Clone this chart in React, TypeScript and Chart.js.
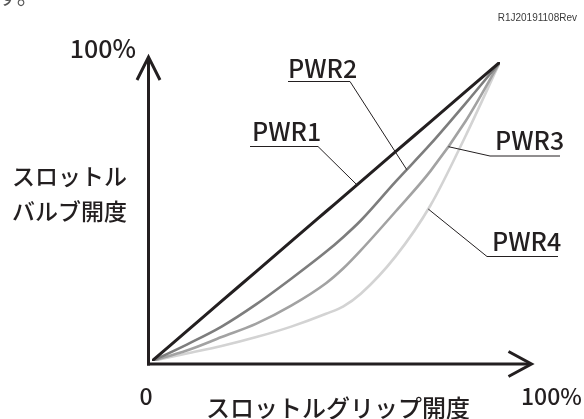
import React, { useEffect, useRef } from "react";
import { Chart, registerables } from "chart.js";

Chart.register(...registerables);

// スロットルグリップ開度 (%)
const gripOpening = [0, 10, 20, 30, 40, 50, 55, 60, 70, 80, 90, 100];
// スロットルバルブ開度 (%)
const pwr1 = [0, 10, 20, 30, 40, 50, 55, 60, 70, 80, 90, 100];
const pwr2 = [0, 5.5, 11.5, 19, 27.5, 36.5, 41.5, 47, 60, 72.5, 86, 100];
const pwr3 = [0, 3.5, 8, 12.5, 18.5, 26, 31, 37, 50, 63.5, 80, 100];
const pwr4 = [0, 2.5, 5, 8, 11.5, 15.8, 18.3, 22.5, 35, 52, 75, 100];
const seriesNames = ["PWR1", "PWR2", "PWR3", "PWR4"];
const seriesValues = [pwr1, pwr2, pwr3, pwr4];
const seriesColors = ["#231f20", "#7d7d7d", "#a2a2a2", "#d3d3d3"];
const seriesWidths = [3, 2.6, 2.6, 2.6];
// grip opening where each label's leader line touches its curve
const leaderTargetX = [58.9, 73.2, 85.2, 79.4];

const xAxisStart = "0";
const xAxisEnd = "100%";
const yAxisEnd = "100%";
const xTitle = "スロットルグリップ開度";
const yTitle = ["スロットル", "バルブ開度"];
const docCode = "R1J20191108Rev";

const INK = "#231f20";
const JP = '"Noto Sans CJK JP", "Noto Sans", sans-serif';

// label layout: text left, text baseline, underline y, underline from/to, leader start x
const labelLayout = [
  { tx: 252, ty: 141, uy: 146.5, u0: 250, u1: 318, lx: 318 },
  { tx: 288, ty: 78, uy: 81.5, u0: 288, u1: 350, lx: 350 },
  { tx: 495, ty: 150, uy: 156, u0: 490, u1: 560, lx: 490 },
  { tx: 492, ty: 251, uy: 256.5, u0: 487, u1: 558, lx: 487 },
];

const decorPlugin = {
  id: "decor",
  beforeDatasetsDraw(chart: any) {
    const { ctx, chartArea } = chart;
    const { left, right, top, bottom } = chartArea;
    ctx.save();
    ctx.strokeStyle = INK;
    ctx.lineWidth = 3;
    ctx.lineJoin = "miter";
    ctx.lineCap = "butt";
    const ax = left - 3.5;
    const ay = bottom + 3;
    // y axis with arrow
    ctx.beginPath();
    ctx.moveTo(ax, ay + 1.5);
    ctx.lineTo(ax, top - 4);
    ctx.stroke();
    ctx.beginPath();
    ctx.moveTo(ax - 11.5, top + 18);
    ctx.lineTo(ax, top - 5);
    ctx.lineTo(ax + 11.5, top + 18);
    ctx.stroke();
    // x axis with arrow
    const tipX = right + 31.5;
    ctx.beginPath();
    ctx.moveTo(ax - 1.5, ay);
    ctx.lineTo(tipX - 1, ay);
    ctx.stroke();
    ctx.beginPath();
    ctx.moveTo(tipX - 23, ay - 12.5);
    ctx.lineTo(tipX, ay);
    ctx.lineTo(tipX - 23, ay + 12.5);
    ctx.stroke();
    ctx.restore();
  },
  afterDatasetsDraw(chart: any) {
    const { ctx, chartArea, scales } = chart;
    const { left, right, top, bottom } = chartArea;
    ctx.save();
    ctx.fillStyle = INK;
    // texts around axes
    ctx.textBaseline = "alphabetic";
    ctx.font = `500 25px ${JP}`;
    ctx.textAlign = "right";
    ctx.fillText(yAxisEnd, left - 16, top - 4);
    ctx.font = `500 23px ${JP}`;
    ctx.textAlign = "center";
    ctx.fillText(xAxisStart, left - 6, bottom + 44);
    ctx.textAlign = "left";
    ctx.fillText(xAxisEnd, right + 21, bottom + 44);
    ctx.font = `500 24px ${JP}`;
    ctx.textAlign = "center";
    ctx.textBaseline = "middle";
    ctx.fillText(xTitle, 338, bottom + 47);
    ctx.font = `500 23px ${JP}`;
    ctx.textAlign = "left";
    ctx.fillText(yTitle[0], 12, 176);
    ctx.fillText(yTitle[1], 12, 211);
    // doc code
    ctx.fillStyle = "#3a3a3a";
    ctx.font = '10px "Liberation Sans", Arial, sans-serif';
    ctx.textAlign = "right";
    ctx.textBaseline = "alphabetic";
    ctx.fillText(docCode, 577, 21);
    // clipped fragment at top-left
    ctx.fillStyle = "#555";
    ctx.font = `22px ${JP}`;
    ctx.textAlign = "left";
    ctx.textBaseline = "middle";
    ctx.fillText("す。", -3, -4);

    // series labels with leaders
    ctx.fillStyle = INK;
    ctx.strokeStyle = INK;
    ctx.lineWidth = 1;
    ctx.font = `500 25px ${JP}`;
    ctx.textAlign = "left";
    ctx.textBaseline = "alphabetic";
    seriesNames.forEach((name, i) => {
      const L = labelLayout[i];
      ctx.fillText(name, L.tx, L.ty);
      const meta = chart.getDatasetMeta(i);
      const px = scales.x.getPixelForValue(leaderTargetX[i]);
      let py = scales.y.getPixelForValue(leaderTargetX[i]);
      const pt = meta.dataset && meta.dataset.interpolate ? meta.dataset.interpolate({ x: px }, "x") : null;
      if (pt) py = pt.y;
      ctx.beginPath();
      ctx.moveTo(L.u0, L.uy);
      ctx.lineTo(L.u1, L.uy);
      ctx.moveTo(L.lx, L.uy);
      ctx.lineTo(px, py);
      ctx.stroke();
    });
    ctx.restore();
  },
};

export default function App() {
  const canvasRef = useRef<HTMLCanvasElement | null>(null);

  useEffect(() => {
    const canvas = canvasRef.current;
    if (!canvas) return;
    const chart = new Chart(canvas, {
      type: "line",
      data: {
        datasets: seriesNames.map((name, i) => ({
          label: name,
          data: gripOpening.map((g, j) => ({ x: g, y: seriesValues[i][j] })),
          borderColor: seriesColors[i],
          borderWidth: seriesWidths[i],
          pointRadius: 0,
          cubicInterpolationMode: "monotone" as const,
          fill: false,
        })),
      },
      options: {
        animation: false,
        responsive: false,
        devicePixelRatio: 1,
        layout: { padding: { left: 152, right: 84, top: 62, bottom: 58 } },
        scales: {
          x: { type: "linear", min: 0, max: 100, display: false },
          y: { type: "linear", min: 0, max: 100, display: false },
        },
        plugins: {
          legend: { display: false },
          tooltip: { enabled: false },
        },
        events: [],
      },
      plugins: [decorPlugin],
    });
    return () => chart.destroy();
  }, []);

  return (
    <div style={{ position: "fixed", left: 0, top: 0, width: 584, height: 419, background: "#fff" }}>
      <canvas ref={canvasRef} width={584} height={419} style={{ display: "block" }} />
    </div>
  );
}
